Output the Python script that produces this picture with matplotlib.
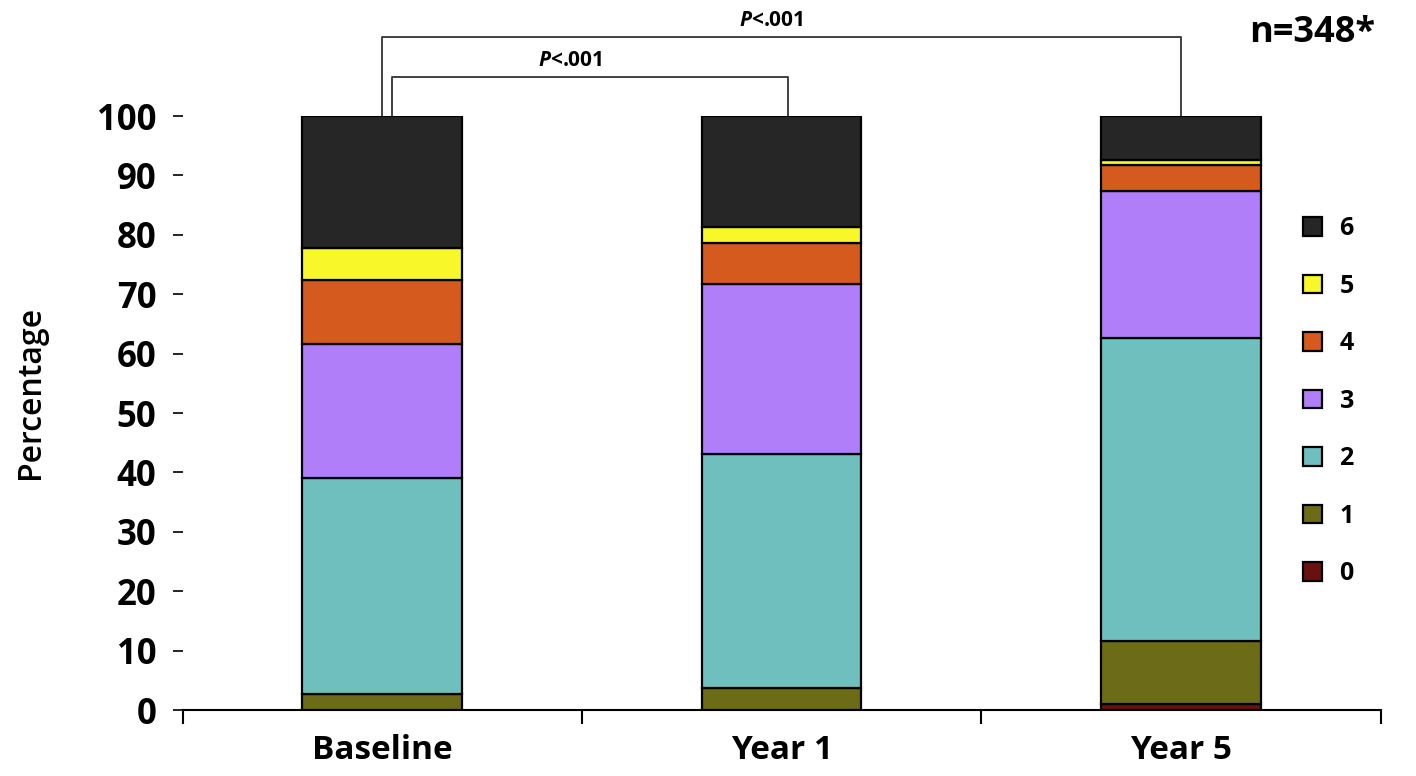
import matplotlib.pyplot as plt
from matplotlib.patches import Patch

plt.rcParams['font.family'] = ['Open Sans', 'DejaVu Sans']
plt.rcParams['mathtext.fontset'] = 'custom'
plt.rcParams['mathtext.it'] = 'Open Sans:italic:bold'
plt.rcParams['mathtext.rm'] = 'Open Sans:bold'

# Percentage of patients in each score group at each visit
groups = ['Baseline', 'Year 1', 'Year 5']
scores = ['0', '1', '2', '3', '4', '5', '6']
score_0 = [0.0, 0.0, 1.1]
score_1 = [2.7, 3.7, 10.5]
score_2 = [36.3, 39.4, 51.1]
score_3 = [22.7, 28.6, 24.7]
score_4 = [10.7, 7.0, 4.4]
score_5 = [5.4, 2.6, 0.8]
score_6 = [22.2, 18.7, 7.4]
colors = ['#6b1010', '#6b6b18', '#6fbfbf', '#b07ef8', '#d45a1e', '#f7f72a', '#262626']

# significance brackets: (left x, right x, height, label x, label)
brackets = [(0.0, 2.0, 113.3, 0.975, r'$\mathit{P}$<.001'),
            (0.025, 1.015, 106.6, 0.47, r'$\mathit{P}$<.001')]
n_label = 'n=348*'

fig = plt.figure(figsize=(14.16, 7.76), dpi=100)
ax = fig.add_axes([0.129, 0.085, 0.846, 0.7655])

series = [score_0, score_1, score_2, score_3, score_4, score_5, score_6]
x = list(range(len(groups)))
bottom = [0.0] * len(groups)
for vals, col in zip(series, colors):
    ax.bar(x, vals, width=0.4, bottom=bottom, color=col,
           edgecolor='black', linewidth=1.6, zorder=3)
    bottom = [b + v for b, v in zip(bottom, vals)]

ax.set_xlim(-0.5, 2.5)
ax.set_ylim(0, 100)
ax.set_yticks(range(0, 101, 10))
ax.tick_params(axis='y', labelsize=25, length=7, width=1.2, pad=12)
for lbl in ax.get_yticklabels():
    lbl.set_fontweight('bold')

# category boundaries carry the ticks, names sit under the bars
ax.set_xticks([-0.5, 0.5, 1.5, 2.5])
ax.set_xticklabels([])
ax.tick_params(axis='x', length=10, width=1.5)
ax.set_xticks(x, minor=True)
ax.set_xticklabels(groups, minor=True, fontsize=24, fontweight='bold')
ax.tick_params(axis='x', which='minor', length=0, pad=17)

for s in ['top', 'right', 'left']:
    ax.spines[s].set_visible(False)
ax.spines['bottom'].set_linewidth(1.5)

ax.set_ylabel('Percentage', fontsize=23, fontweight='semibold')
ax.yaxis.set_label_coords(-0.113, 0.535)

for x0, x1, h, tx, txt in brackets:
    ax.plot([x0, x0, x1, x1], [100, h, h, 100], color='#333333',
            linewidth=1.3, clip_on=False, zorder=2)
    ax.text(tx, h + 1.0, txt, ha='center', va='bottom', fontsize=15,
            fontweight='bold')

fig.text(0.971, 0.958, n_label, ha='right', va='center',
         fontsize=26, fontweight='bold')

handles = [Patch(facecolor=c, edgecolor='black', linewidth=1.6) for c in colors]
leg = ax.legend(handles[::-1], scores[::-1], loc='center left',
                bbox_to_anchor=(0.925, 0.52), frameon=False,
                fontsize=18, labelspacing=1.3, handlelength=0.75,
                handleheight=0.75, handletextpad=0.7, borderpad=0)
for t in leg.get_texts():
    t.set_fontweight('bold')

fig.savefig('out.png', dpi=100, facecolor='white')
